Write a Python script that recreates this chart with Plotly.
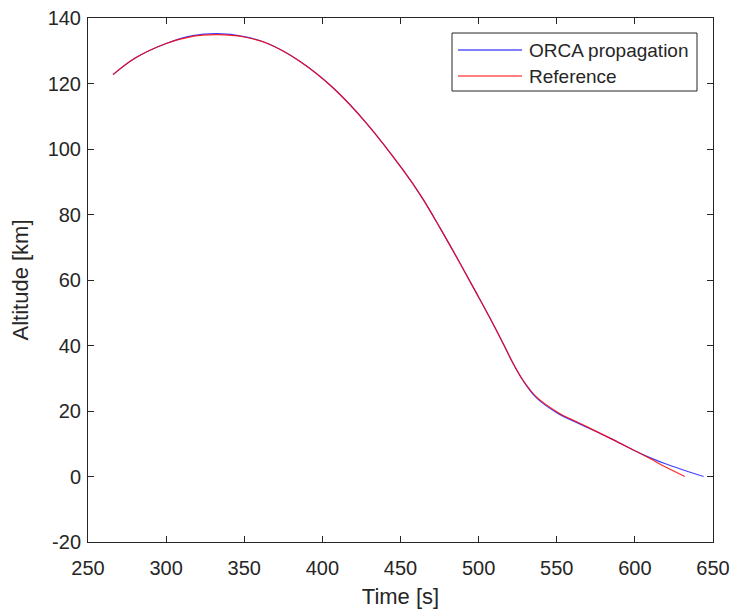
import plotly.graph_objects as go

# ---- data ----
time_orca = [266, 280, 300, 317, 333, 350, 365, 385.5, 406.8, 428, 451.6, 464, 476, 488,
             498.6, 507, 515.6, 522, 528.4, 537, 551, 565, 585, 599, 610, 620, 631, 644]
alt_orca = [122.7, 127.7, 132.2, 134.6, 135.2, 134.3, 132.2, 126.8, 118.7, 108.0, 93.6, 85.0,
            75.3, 65.2, 56.0, 48.6, 40.7, 34.6, 29.3, 24.0, 19.2, 16.0, 11.5, 8.1, 5.7, 3.8,
            2.0, 0.0]

time_ref = [266, 280, 300, 317, 333, 350, 365, 385.5, 406.8, 428, 451.6, 464, 476, 488,
            498.6, 507, 515.6, 522, 528.4, 537, 551, 565, 585, 599, 610, 620, 632]
alt_ref = [122.7, 127.7, 132.2, 134.4, 134.9, 134.2, 132.2, 126.8, 118.7, 108.0, 93.6, 85.0,
           75.3, 65.2, 56.0, 48.6, 40.7, 34.6, 29.4, 24.3, 19.5, 16.2, 11.5, 8.1, 5.4, 2.8, 0.0]

legend_names = ["ORCA propagation", "Reference"]
x_ticks = [250, 300, 350, 400, 450, 500, 550, 600, 650]
y_ticks = [-20, 0, 20, 40, 60, 80, 100, 120, 140]

FONT = "Liberation Sans, Arial, sans-serif"
TXT = "#262626"
BLUE = "rgba(0,0,255,0.75)"
RED = "rgba(255,0,0,0.85)"

fig = go.Figure()
fig.add_trace(go.Scatter(x=time_orca, y=alt_orca, mode="lines", name=legend_names[0],
                         line=dict(color=BLUE, width=1.2, shape="spline", smoothing=1.0),
                         showlegend=False))
fig.add_trace(go.Scatter(x=time_ref, y=alt_ref, mode="lines", name=legend_names[1],
                         line=dict(color=RED, width=1.2, shape="spline", smoothing=1.0),
                         showlegend=False))

axis_common = dict(showgrid=False, zeroline=False, showline=True, linecolor=TXT, linewidth=1,
                   mirror="ticks", ticks="inside", ticklen=6, tickwidth=1, tickcolor=TXT,
                   automargin=False,
                   tickfont=dict(family=FONT, size=20, color=TXT))

fig.update_xaxes(range=[250, 650], tickvals=x_ticks, ticktext=[str(v) for v in x_ticks],
                 ticklabelstandoff=8,
                 title=dict(text="Time [s]", font=dict(family=FONT, size=22, color=TXT), standoff=10),
                 **axis_common)
fig.update_yaxes(range=[-20, 140], tickvals=y_ticks, ticktext=[str(v) for v in y_ticks],
                 ticklabelstandoff=2,
                 title=dict(text="Altitude [km]", font=dict(family=FONT, size=22, color=TXT), standoff=12),
                 **axis_common)

# manual MATLAB-style legend (box, line samples, labels) in pixel-derived paper coords
W, H = 625.0, 524.0
def px(x):
    return (x - 88) / W
def py(y):
    return (542 - y) / H

fig.add_shape(type="rect", xref="paper", yref="paper", x0=px(452), x1=px(697), y0=py(91), y1=py(33),
              line=dict(color=TXT, width=1), fillcolor="white", layer="above")
for name, color, yy in [(legend_names[0], "rgb(0,0,255)", 50), (legend_names[1], "rgb(255,0,0)", 76)]:
    fig.add_shape(type="line", xref="paper", yref="paper", x0=px(458), x1=px(522), y0=py(yy), y1=py(yy),
                  line=dict(color=color, width=1), layer="above")
    fig.add_annotation(text=name, xref="paper", yref="paper", x=px(527), y=py(yy), xanchor="left",
                       yanchor="middle", showarrow=False,
                       font=dict(family=FONT, size=19, color=TXT))

fig.update_layout(width=734, height=609, margin=dict(l=88, r=21, t=18, b=67),
                  paper_bgcolor="white", plot_bgcolor="white", showlegend=False)

fig.write_html("out.html")
